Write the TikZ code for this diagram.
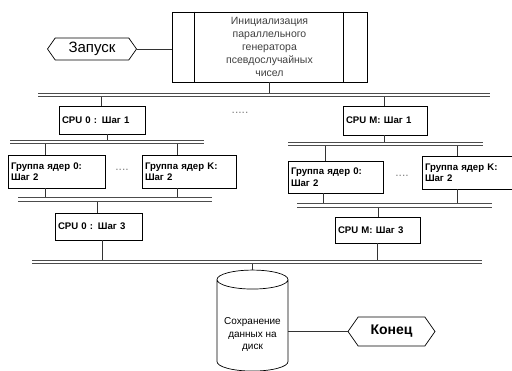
\documentclass[tikz,border=0pt]{standalone}
\usepackage{fontspec}
\setmainfont{Liberation Sans}
\usetikzlibrary{shapes.geometric,shapes.symbols}
\tikzset{
  stepbox/.style={draw,line width=0.9pt,inner sep=2pt,align=left,anchor=center,
    font=\bfseries\fontsize{9.6}{11.5}\selectfont},
  term/.style={draw,shape=signal,signal to=west and east,signal pointer angle=110,
    line width=0.7pt,inner sep=0pt,font=\fontsize{15}{17}\selectfont},
  bus/.style={double,double distance=2.6pt,line width=1pt,draw=black!70},
  link/.style={line width=0.8pt,draw=black!80},
  dots/.style={font=\fontsize{12}{12}\selectfont,text=black!50}
}
\begin{document}
\begin{tikzpicture}[x=1pt,y=-1pt]
   \useasboundingbox[fill=white] (0,0) rectangle (512,371);
   %start
   \node[draw,line width=0.7pt,minimum width=195,minimum height=70,
     align=center,text=black!75,font=\fontsize{10.5}{13}\selectfont] (init) at (269.5,47)
     {Инициализация\\параллельного\\генератора\\псевдослучайных\\чисел};
   \draw[line width=0.7pt] ([xshift=23]init.north west) -- ([xshift=23]init.south west);
   \draw[line width=0.7pt] ([xshift=-24]init.north east) -- ([xshift=-24]init.south east);
   \node[term,minimum width=89,minimum height=22] (start) at (92,49) {Запуск};
   \draw[link] (start.east) -- (init.west |- start.east);
   %buses
   \coordinate (busA) at (38,95);
   \coordinate (busL1) at (10,142);
   \coordinate (busL2) at (18,199.5);
   \coordinate (busR1) at (288,144);
   \coordinate (busR2) at (297,205.5);
   \coordinate (busB) at (32,262);
   %step 1
   \node[stepbox,minimum width=86,minimum height=28,text width=80] (cpu0a) at (102,120) {CPU 0 : Шаг 1};
   \node[stepbox,minimum width=84,minimum height=29,text width=78] (cpuMa) at (385,120.5) {CPU M: Шаг 1};
   \node[dots] (dotsA) at (240,113) {.....};
   %step 2, CPU 0
   \node[stepbox,minimum width=97,minimum height=33,text width=91] (g00) at (56.5,171.5) {Группа ядер 0:\\Шаг 2};
   \node[stepbox,minimum width=94,minimum height=33,text width=88] (g0K) at (189,171.5) {Группа ядер K:\\Шаг 2};
   \node[dots] (dotsL) at (122,170) {....};
   %step 2, CPU M
   \node[stepbox,minimum width=95,minimum height=32,text width=89] (gM0) at (335.5,177) {Группа ядер 0:\\Шаг 2};
   \node[stepbox,minimum width=92,minimum height=33,text width=86] (gMK) at (468,172.5) {Группа ядер K:\\Шаг 2};
   \node[dots] (dotsR) at (402,176) {....};
   %step 3
   \node[stepbox,minimum width=87,minimum height=27,text width=81] (cpu0b) at (98.5,226.5) {CPU 0 : Шаг 3};
   \node[stepbox,minimum width=85,minimum height=26,text width=79] (cpuMb) at (377.5,230) {CPU M: Шаг 3};
   %disk
   \node[draw,line width=0.7pt,shape=cylinder,shape border rotate=90,aspect=0.3,
     minimum width=71,minimum height=101,align=center,
     font=\fontsize{10}{12.5}\selectfont] (disk) at (252.5,327.5)
     {\\[9pt]Сохранение\\данных на\\диск};
   \node[term,minimum width=87,minimum height=29,font=\bfseries\fontsize{14}{16}\selectfont] (finish) at (391.5,331.5) {Конец};
   \draw[link] (finish.west) -- (finish.west -| disk.east);
   %links
   \draw[link] (init.south) -- (init.south |- busA);
   \draw[link] ([xshift=-1]cpu0a.north) -- ([xshift=-1]cpu0a.north |- busA);
   \draw[link] ([xshift=-1]cpuMa.north) -- ([xshift=-1]cpuMa.north |- busA);
   \draw[link] ([xshift=5]cpu0a.south) -- ([xshift=5]cpu0a.south |- busL1);
   \draw[link] ([xshift=-1]cpuMa.south) -- ([xshift=-1]cpuMa.south |- busR1);
   \draw[link] ([xshift=-11.5]g00.north) -- ([xshift=-11.5]g00.north |- busL1);
   \draw[link] ([xshift=-12]g0K.north) -- ([xshift=-12]g0K.north |- busL1);
   \draw[link] ([xshift=-10.5]gM0.north) -- ([xshift=-10.5]gM0.north |- busR1);
   \draw[link] ([xshift=-11]gMK.north) -- ([xshift=-11]gMK.north |- busR1);
   \draw[link] ([xshift=-11.5]g00.south) -- ([xshift=-11.5]g00.south |- busL2);
   \draw[link] ([xshift=-12]g0K.south) -- ([xshift=-12]g0K.south |- busL2);
   \draw[link] ([xshift=-12.5]gM0.south) -- ([xshift=-12.5]gM0.south |- busR2);
   \draw[link] ([xshift=-11]gMK.south) -- ([xshift=-11]gMK.south |- busR2);
   \draw[link] ([xshift=-1.5]cpu0b.north) -- ([xshift=-1.5]cpu0b.north |- busL2);
   \draw[link] ([xshift=0.5]cpuMb.north) -- ([xshift=0.5]cpuMb.north |- busR2);
   \draw[link] ([xshift=3.5]cpu0b.south) -- ([xshift=3.5]cpu0b.south |- busB);
   \draw[link] ([xshift=-0.5]cpuMb.south) -- ([xshift=-0.5]cpuMb.south |- busB);
   \draw[link] (disk.north) -- (disk.north |- busB);
   %bus lines
   \draw[bus] (busA) -- ++(452,0);
   \draw[bus] (busL1) -- ++(194,0);
   \draw[bus] (busL2) -- ++(194,0);
   \draw[bus] (busR1) -- ++(195,0);
   \draw[bus] (busR2) -- ++(195,0);
   \draw[bus] (busB) -- ++(450,0);
\end{tikzpicture}
\end{document}
